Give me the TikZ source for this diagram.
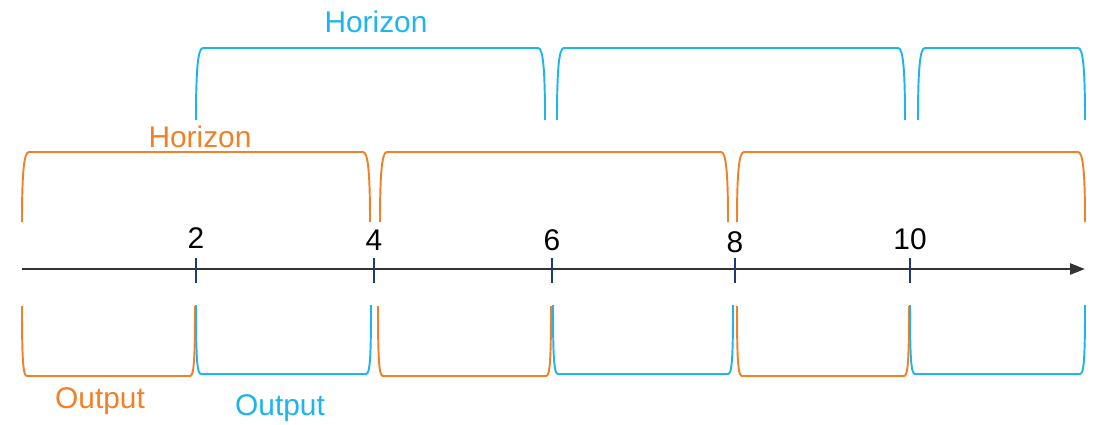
\documentclass[tikz,border=0pt]{standalone}
\usepackage{fontspec}
\setmainfont{Liberation Sans}
\usetikzlibrary{arrows.meta}
\definecolor{horizonorange}{HTML}{F28026}
\definecolor{horizonblue}{HTML}{1EB4EC}
\definecolor{tickblue}{HTML}{1F3A7A}
\definecolor{axisgray}{HTML}{333333}

\begin{document}
\begin{tikzpicture}[
			x=0.02cm, y=-0.02cm,
			font=\fontsize{17}{20}\selectfont,
			orangeline/.style={draw=horizonorange, line width=1.1pt},
			blueline/.style={draw=horizonblue, line width=1.1pt},
			axisline/.style={draw=axisgray, line width=1.4pt, -{Triangle[length=0.3cm, width=0.22cm]}},
			tickmark/.style={draw=tickblue, line width=0.9pt}
			]

			\useasboundingbox (0,0) rectangle (1094,424);

			% upper brackets (horizon), orange row then blue row
			\foreach \a/\b in {22/370, 380/728, 737/1085} {
				\draw[orangeline] (\a,222) .. controls (\a,172) and (\a+2,152) .. (\a+7,152)
					-- (\b-7,152) .. controls (\b-2,152) and (\b,172) .. (\b,222);
			}
			\foreach \a/\b in {196/545, 557/905, 918/1085} {
				\draw[blueline] (\a,120) .. controls (\a,68) and (\a+2,48) .. (\a+7,48)
					-- (\b-7,48) .. controls (\b-2,48) and (\b,68) .. (\b,120);
			}

			% lower brackets (output)
			\foreach \a/\b in {22/195, 378/551, 737/909} {
				\draw[orangeline] (\a,306) .. controls (\a,360) and (\a+1,376) .. (\a+5,376)
					-- (\b-5,376) .. controls (\b-1,376) and (\b,360) .. (\b,306);
			}
			\foreach \a/\b in {196/371, 553/733, 910/1085} {
				\draw[blueline] (\a,305) .. controls (\a,358) and (\a+1,374) .. (\a+5,374)
					-- (\b-5,374) .. controls (\b-1,374) and (\b,358) .. (\b,305);
			}

			% time axis
			\coordinate (start) at (22,269);
			\coordinate (end) at (1085,269);
			\draw[axisline] (start) -- (end);

			\foreach \x/\n/\yy in {196/2/248, 374/4/250, 552/6/250, 735/8/252, 910/10/249} {
				\draw[tickmark] (\x,258) -- (\x,283);
				\node[anchor=base, inner sep=0pt] (lab\n) at (\x,\yy) {\n};
			}

			\node[text=horizonblue] (horizonb) at (376,22) {Horizon};
			\node[text=horizonorange] (horizono) at (200,137) {Horizon};
			\node[text=horizonorange] (outputo) at (100,401) {Output};
			\node[text=horizonblue] (outputb) at (280,408) {Output};

		\end{tikzpicture}
\end{document}
